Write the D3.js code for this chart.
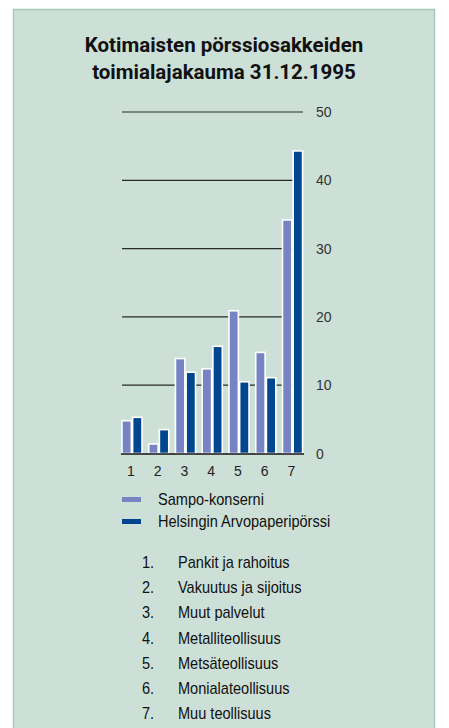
<!DOCTYPE html>
<html>
<head>
<meta charset="utf-8">
<script src="https://cdn.jsdelivr.net/npm/d3@7"></script>
<style>
  body { margin: 0; background: #fff; }
  svg { display: block; }
</style>
</head>
<body>
<div id="chart"></div>
<script>
const titleLines = ["Kotimaisten pörssiosakkeiden", "toimialajakauma 31.12.1995"];
const categories = [1, 2, 3, 4, 5, 6, 7];
const seriesNames = ["Sampo-konserni", "Helsingin Arvopaperipörssi"];
const sampo = [4.8, 1.4, 13.9, 12.4, 20.9, 14.8, 34.2];
const helsinki = [5.3, 3.5, 11.9, 15.7, 10.5, 11.1, 44.3];
const yTicks = [0, 10, 20, 30, 40, 50];
const industries = ["Pankit ja rahoitus", "Vakuutus ja sijoitus", "Muut palvelut",
    "Metalliteollisuus", "Metsäteollisuus", "Monialateollisuus", "Muu teollisuus"];

const ctx = {
    w: 449, h: 728,
    colors: ["#7684c4", "#00468e"],
    bg: "#cce0d7",
    border: "#a9c9bd",
    narrow: "'Liberation Sans', sans-serif",
    squeeze: 0.91
};

let svg = d3.select("#chart").append("svg")
    .attr("width", ctx.w)
    .attr("height", ctx.h);

// panel
svg.append("rect")
    .attr("x", 13.5).attr("y", 9.5)
    .attr("width", 421).attr("height", 730)
    .attr("fill", ctx.bg)
    .attr("stroke", ctx.border)
    .attr("stroke-width", 1.5);

// title
svg.append("text")
    .attr("text-anchor", "middle")
    .style("font-family", "'Roboto', sans-serif")
    .style("font-weight", "bold")
    .style("font-size", "20.5px")
    .attr("fill", "#111")
    .selectAll("tspan")
    .data(titleLines)
    .enter()
    .append("tspan")
    .attr("x", 224)
    .attr("y", (d, i) => 52 + i * 27)
    .text(d => d);

let x = d3.scaleBand()
    .domain(categories)
    .range([118.6, 305.9])
    .paddingInner(0.25)
    .paddingOuter(0.125);
let xSub = d3.scaleBand()
    .domain([0, 1])
    .range([0, x.bandwidth()])
    .paddingInner(0.12);
let y = d3.scaleLinear()
    .domain([0, 50])
    .range([453.5, 112]);

// gridlines
svg.append("g")
    .selectAll("line")
    .data(yTicks.filter(d => d > 0))
    .enter()
    .append("line")
    .attr("x1", 122).attr("x2", 303)
    .attr("y1", d => y(d)).attr("y2", d => y(d))
    .attr("stroke", "#2a2a2a")
    .attr("stroke-width", 1.2);

// tick labels
svg.append("g")
    .selectAll("text")
    .data(yTicks)
    .enter()
    .append("text")
    .attr("x", 316)
    .attr("y", d => y(d) + 5)
    .style("font-family", "'Liberation Sans', sans-serif")
    .style("font-size", "14px")
    .attr("fill", "#333")
    .text(d => d);

// bars
let groups = svg.append("g")
    .selectAll("g")
    .data(categories.map((c, i) => ({key: c, values: [sampo[i], helsinki[i]]})))
    .enter()
    .append("g")
    .attr("transform", d => "translate(" + x(d.key) + ",0)");
groups.selectAll("rect")
    .data(d => d.values)
    .enter()
    .append("rect")
    .attr("x", (d, i) => xSub(i))
    .attr("width", xSub.bandwidth())
    .attr("y", d => y(d))
    .attr("height", d => y(0) - y(d))
    .attr("fill", (d, i) => ctx.colors[i])
    .attr("stroke", "#fff")
    .attr("stroke-width", 1.6);

// baseline
svg.append("line")
    .attr("x1", 121).attr("x2", 304)
    .attr("y1", y(0) + 0.5).attr("y2", y(0) + 0.5)
    .attr("stroke", "#111")
    .attr("stroke-width", 1.6);

// x labels
svg.append("g")
    .selectAll("text")
    .data(categories)
    .enter()
    .append("text")
    .attr("x", d => x(d) + x.bandwidth() / 2 - 1)
    .attr("y", 476)
    .attr("text-anchor", "middle")
    .style("font-family", "'Liberation Sans', sans-serif")
    .style("font-size", "14px")
    .attr("fill", "#222")
    .text(d => d);

// legend
let legend = svg.append("g")
    .selectAll("g")
    .data(seriesNames)
    .enter()
    .append("g")
    .attr("transform", (d, i) => "translate(122," + (499 + i * 22) + ")");
legend.append("rect")
    .attr("x", 0).attr("y", -2)
    .attr("width", 19).attr("height", 5)
    .attr("fill", (d, i) => ctx.colors[i]);
legend.append("text")
    .attr("transform", "translate(36,6) scale(" + ctx.squeeze + ",1)")
    .style("font-family", ctx.narrow)
    .style("font-size", "16px")
    .attr("fill", "#111")
    .text(d => d);

// industry list
let list = svg.append("g")
    .selectAll("g")
    .data(industries)
    .enter()
    .append("g")
    .attr("transform", (d, i) => "translate(0," + (568 + i * 25.2) + ")");
list.append("text")
    .attr("transform", "translate(142,0) scale(" + ctx.squeeze + ",1)")
    .style("font-family", ctx.narrow)
    .style("font-size", "16px")
    .attr("fill", "#111")
    .text((d, i) => (i + 1) + ".");
list.append("text")
    .attr("transform", "translate(178,0) scale(" + ctx.squeeze + ",1)")
    .style("font-family", ctx.narrow)
    .style("font-size", "16px")
    .attr("fill", "#111")
    .text(d => d);
</script>
</body>
</html>
